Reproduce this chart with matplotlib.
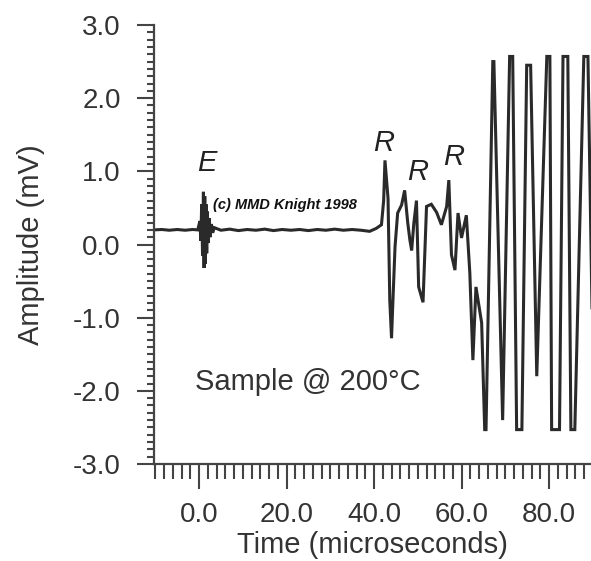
import matplotlib
matplotlib.use("Agg")
import matplotlib.pyplot as plt
from matplotlib.ticker import MultipleLocator, FormatStrFormatter

plt.rcParams['font.family'] = ['Liberation Sans', 'DejaVu Sans']
plt.rcParams['axes.unicode_minus'] = False

# ---- data ----
time_us = [
    -10.3, -8.5, -6.8, -5.0, -3.2, -1.5, -0.3,
    0.2, 0.4, 0.6, 0.8, 1.0, 1.15, 1.3, 1.45, 1.6, 1.75, 1.9, 2.1, 2.3, 2.5, 2.8, 3.1, 3.5,
    5.0, 7.0, 9.0, 11.0, 13.0, 15.0, 17.0, 19.0, 21.0, 23.0, 25.0, 27.0, 29.0, 31.0, 33.0,
    35.0, 37.0, 39.0, 40.5, 41.7,
    42.2, 42.5, 43.2, 43.6, 44.0, 44.3, 44.8, 45.4, 46.3, 47.0, 47.7, 48.2, 48.6, 49.1,
    49.7, 50.2, 51.2, 52.0, 53.1, 54.3, 55.4, 56.6, 57.1, 57.7, 58.5, 59.2, 60.0, 61.1,
    61.9, 62.6, 63.3, 64.6, 65.3,
    65.6, 67.15, 67.4, 69.4, 71.0, 71.7, 72.6, 73.8, 74.9, 75.8, 77.2, 79.5, 80.2, 80.6,
    82.4, 83.2, 84.3, 85.0, 85.9, 87.96, 88.9, 90.0,
]
amplitude_mv = [
    0.20, 0.205, 0.195, 0.205, 0.195, 0.205, 0.20,
    0.32, 0.05, 0.55, -0.15, 0.72, -0.32, 0.66, -0.26, 0.55, -0.12, 0.45, 0.02, 0.36, 0.10, 0.28, 0.16, 0.23,
    0.195, 0.21, 0.19, 0.205, 0.195, 0.21, 0.19, 0.205, 0.195, 0.205, 0.19, 0.205, 0.195, 0.21, 0.195,
    0.205, 0.195, 0.18, 0.22, 0.27,
    0.60, 1.15, 0.63, -0.76, -1.28, -0.80, -0.03, 0.43, 0.54, 0.74, 0.30, 0.06, -0.08, 0.29,
    0.60, -0.58, -0.79, 0.52, 0.55, 0.44, 0.27, 0.52, 0.88, -0.14, -0.35, 0.43, 0.09, 0.40,
    -0.39, -1.58, -0.58, -1.07, -2.53,
    -2.53, 2.50, 2.50, -2.40, 2.57, 2.57, -2.53, -2.53, 2.45, 2.45, -1.80, 2.57, 2.57, -2.53,
    -2.53, 2.57, 2.57, -2.53, -2.53, 2.57, 2.57, -1.50,
]

x_major_ticks = [0, 20, 40, 60, 80]
y_major_ticks = [-3.0, -2.0, -1.0, 0.0, 1.0, 2.0, 3.0]

echo_labels = ["E", "R", "R", "R"]
echo_x = [1.8, 42.3, 50.0, 58.2]
echo_y = [1.11, 1.39, 0.99, 1.19]

# ---- figure ----
fig = plt.figure(figsize=(5.91, 5.61), dpi=100)
ax = fig.add_axes([154/591, 97/561, 437/591, 439/561])

ax.plot(time_us, amplitude_mv, color='#2a2a2a', lw=2.2, solid_joinstyle='miter')

ax.set_xlim(-10.3, 89.6)
ax.set_ylim(-3.0, 3.0)

for s in ['top', 'right']:
    ax.spines[s].set_visible(False)
for s in ['left', 'bottom']:
    ax.spines[s].set_color('#444444')
    ax.spines[s].set_linewidth(1.6)

ax.set_xticks(x_major_ticks)
ax.set_yticks(y_major_ticks)
ax.xaxis.set_minor_locator(MultipleLocator(2))
ax.yaxis.set_minor_locator(MultipleLocator(0.1))
ax.xaxis.set_major_formatter(FormatStrFormatter('%.1f'))
ax.yaxis.set_major_formatter(FormatStrFormatter('%.1f'))

ax.tick_params(axis='x', which='major', length=18, width=1.5, direction='out', pad=9,
               labelsize=20, colors='#444444', labelcolor='#333333')
ax.tick_params(axis='x', which='minor', length=10.5, width=1.5, direction='out', colors='#444444')
ax.tick_params(axis='y', which='major', length=12, width=1.5, direction='out', pad=12,
               labelsize=20, colors='#444444', labelcolor='#333333')
ax.tick_params(axis='y', which='minor', length=5.3, width=1.5, direction='out', colors='#444444')

ax.set_xlabel("Time (microseconds)", fontsize=21, color='#333333')
ax.set_ylabel("Amplitude (mV)", fontsize=21, color='#333333')
ax.xaxis.set_label_coords(0.5, -0.152)
ax.yaxis.set_label_coords(-0.25, 0.5)

for lab, ex, ey in zip(echo_labels, echo_x, echo_y):
    ax.text(ex, ey, lab, fontsize=21, style='italic', color='#222222',
            ha='center', va='center')

ax.text(3.2, 0.54, "(c) MMD Knight 1998", fontsize=10.5, fontweight='bold', style='italic',
        color='#111111', ha='left', va='center')
ax.text(-1.0, -1.88, "Sample @ 200°C", fontsize=21, color='#333333', ha='left', va='center')

fig.savefig("out.png", dpi=100)
